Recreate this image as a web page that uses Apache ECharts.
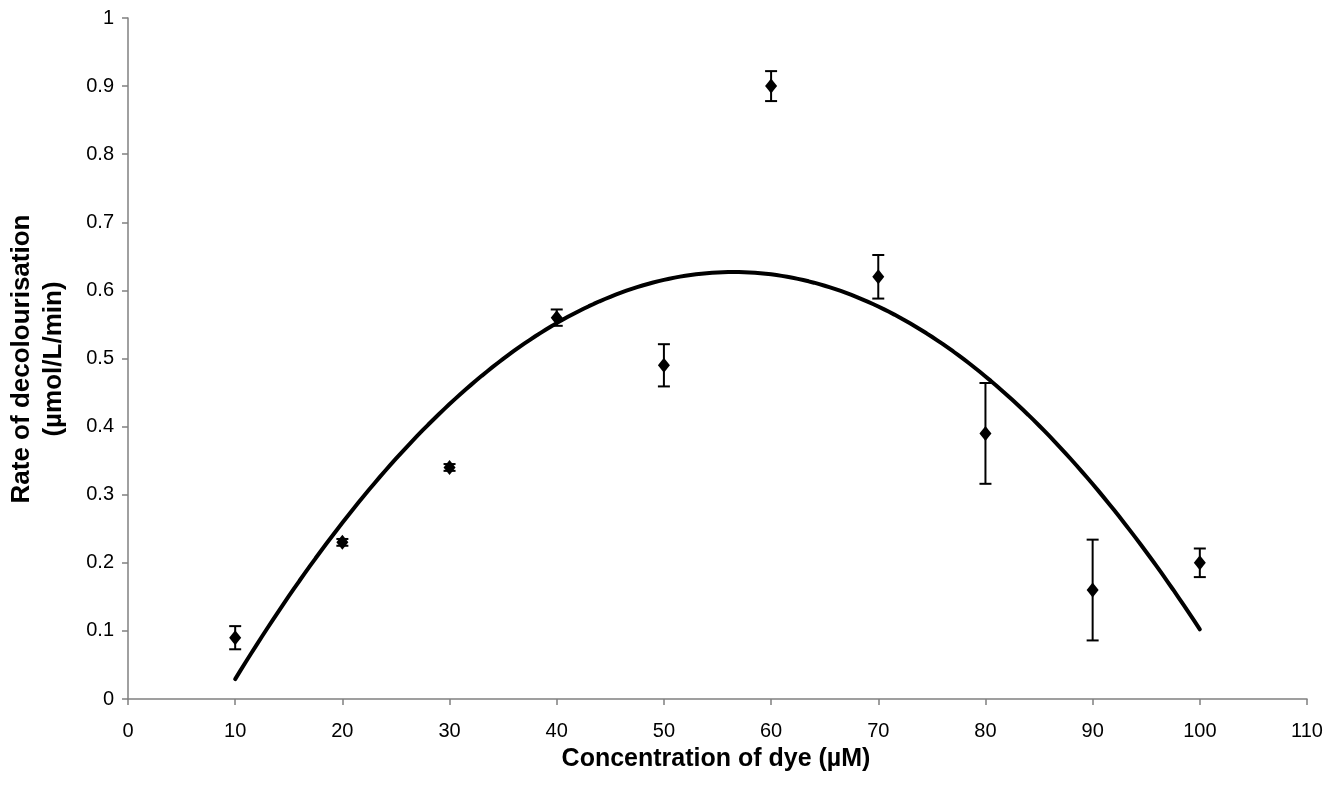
<!DOCTYPE html>
<html>
<head>
<meta charset="utf-8">
<script src="https://cdn.jsdelivr.net/npm/echarts@6/dist/echarts.min.js"></script>
<style>
html,body{margin:0;padding:0;background:#fff;}
#chart{width:1341px;height:786px;}
</style>
</head>
<body>
<div id="chart"></div>
<script>
// ---- data ----
const concentrations = [10, 20, 30, 40, 50, 60, 70, 80, 90, 100];
const rates          = [0.09, 0.23, 0.34, 0.56, 0.49, 0.90, 0.62, 0.39, 0.16, 0.20];
const errors         = [0.017, 0.005, 0.005, 0.012, 0.031, 0.022, 0.032, 0.074, 0.074, 0.021];
const xTitle = 'Concentration of dye (\u00b5M)';
const yTitleLines = ['Rate of decolourisation', '(\u00b5mol/L/min)'];

// ---- polynomial (order 2) trendline: least-squares fit of the data, as in the original ----
function quadFit(xs, ys) {
  let n = xs.length, s = [0,0,0,0,0], t = [0,0,0];
  for (let i = 0; i < n; i++) {
    let p = 1;
    for (let k = 0; k < 5; k++) { s[k] += p; if (k < 3) t[k] += p * ys[i]; p *= xs[i]; }
  }
  const A = [[s[0], s[1], s[2], t[0]], [s[1], s[2], s[3], t[1]], [s[2], s[3], s[4], t[2]]];
  for (let c = 0; c < 3; c++) {
    for (let r = c + 1; r < 3; r++) {
      const f = A[r][c] / A[c][c];
      for (let k = c; k < 4; k++) A[r][k] -= f * A[c][k];
    }
  }
  const b = [0,0,0];
  for (let r = 2; r >= 0; r--) {
    let v = A[r][3];
    for (let k = r + 1; k < 3; k++) v -= A[r][k] * b[k];
    b[r] = v / A[r][r];
  }
  return b;
}
const coef = quadFit(concentrations, rates);
const xFirst = concentrations[0], xLast = concentrations[concentrations.length - 1];
const trend = [];
for (let i = 0; i <= 180; i++) {
  const x = xFirst + (xLast - xFirst) * i / 180;
  trend.push([x, coef[0] + coef[1] * x + coef[2] * x * x]);
}

const points = concentrations.map((x, i) => [x, rates[i]]);
const errData = concentrations.map((x, i) => [x, rates[i] - errors[i], rates[i] + errors[i]]);

const FONT = '"Liberation Sans", Arial, Helvetica, sans-serif';
const chart = echarts.init(document.getElementById('chart'), null, {renderer: 'canvas'});

chart.setOption({
  backgroundColor: '#ffffff',
  animation: false,
  grid: {left: 128, right: 34, top: 18, bottom: 87, containLabel: false},
  xAxis: {
    type: 'value', min: 0, max: 110, interval: 10,
    splitLine: {show: false},
    axisLine: {show: true, onZero: false, lineStyle: {color: '#808080', width: 1.5}},
    axisTick: {show: true, inside: false, length: 6, lineStyle: {color: '#808080', width: 1.5}},
    axisLabel: {color: '#000', fontSize: 20, fontFamily: FONT, margin: 22}
  },
  yAxis: {
    type: 'value', min: 0, max: 1, interval: 0.1,
    splitLine: {show: false},
    axisLine: {show: true, onZero: false, lineStyle: {color: '#808080', width: 1.5}},
    axisTick: {show: true, inside: false, length: 6, lineStyle: {color: '#808080', width: 1.5}},
    axisLabel: {color: '#000', fontSize: 20, fontFamily: FONT, margin: 14,
      formatter: v => String(+v.toFixed(1))}
  },
  graphic: [
    {type: 'text', x: 716, y: 759,
     style: {text: xTitle, fill: '#000', font: 'bold 25px ' + FONT, align: 'center', verticalAlign: 'middle'}},
    {type: 'text', x: 38, y: 359, rotation: Math.PI / 2,
     style: {text: yTitleLines.join('\n'), fill: '#000', font: 'bold 26px ' + FONT, lineHeight: 32,
             align: 'center', verticalAlign: 'middle'}}
  ],
  series: [
    {
      type: 'line', data: trend, showSymbol: false, smooth: false, z: 2,
      lineStyle: {color: '#000', width: 4, cap: 'round'}
    },
    {
      type: 'custom', data: errData, z: 3,
      renderItem: function (params, api) {
        const x = api.value(0);
        const lo = api.coord([x, api.value(1)]);
        const hi = api.coord([x, api.value(2)]);
        const hw = 6;
        const st = {stroke: '#000', lineWidth: 2};
        return {type: 'group', children: [
          {type: 'line', shape: {x1: lo[0], y1: lo[1], x2: hi[0], y2: hi[1]}, style: st},
          {type: 'line', shape: {x1: lo[0] - hw, y1: lo[1], x2: lo[0] + hw, y2: lo[1]}, style: st},
          {type: 'line', shape: {x1: hi[0] - hw, y1: hi[1], x2: hi[0] + hw, y2: hi[1]}, style: st}
        ]};
      }
    },
    {
      type: 'scatter', data: points, symbol: 'diamond', symbolSize: [12, 15], z: 4,
      itemStyle: {color: '#000', opacity: 1}
    }
  ]
});
</script>
</body>
</html>
